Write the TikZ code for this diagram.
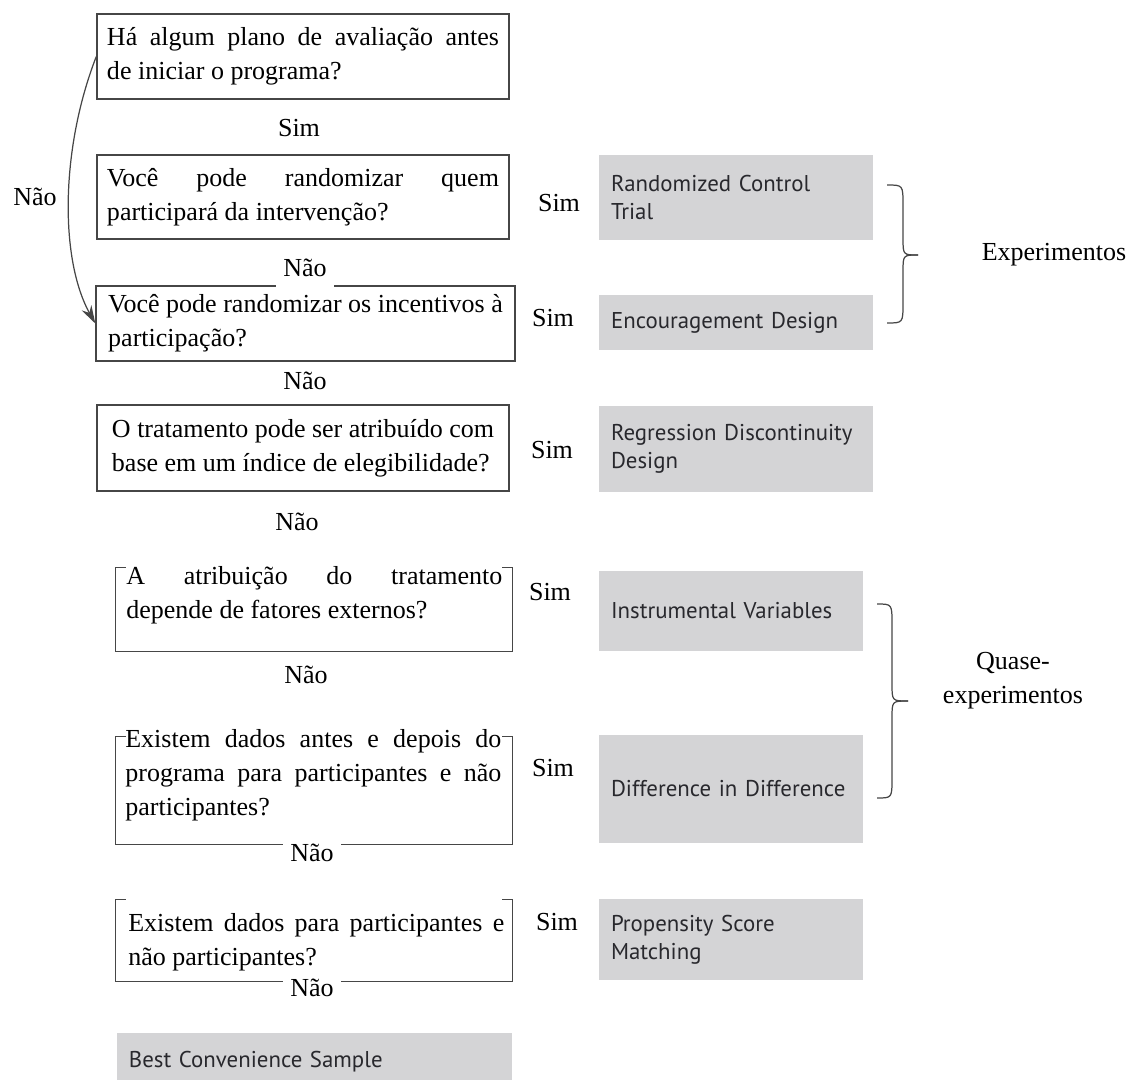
\documentclass[tikz,border=0pt]{standalone}
\usepackage{fontspec}
\setmainfont{Liberation Serif}
\newfontfamily\metodofont{PT Sans}
\usetikzlibrary{arrows.meta}
\definecolor{cinzacaixa}{RGB}{212,212,214}
\definecolor{cinzatexto}{RGB}{40,40,45}
\definecolor{cinzaborda}{RGB}{70,70,70}
\hyphenpenalty=10000
\tolerance=9999

\begin{document}
\begin{tikzpicture}[x=0.2mm,y=-0.2mm,
	texto/.style={font=\fontsize{14.8pt}{19.5pt}\selectfont},
	pergunta/.style={texto,draw=cinzaborda,line width=0.8pt,inner xsep=2mm,inner ysep=0pt},
	moldura/.style={inner sep=0pt},
	contorno/.style={draw=cinzaborda,line width=0.8pt},
	rotulo/.style={texto,inner xsep=4pt,inner ysep=3pt},
	rotulo fundo/.style={rotulo,fill=white},
	metodo/.style={fill=cinzacaixa,text=cinzatexto,font=\metodofont\fontsize{13pt}{16pt}\selectfont,align=left,inner xsep=2.4mm,inner ysep=0pt,text width=#1},
	seta/.style={draw=cinzaborda,line width=0.7pt,-{Stealth[length=3.6mm,width=2.2mm]}},
	chave/.style={draw=cinzaborda,line width=0.7pt}]
		\useasboundingbox (0,0) rectangle (1132,1080);
		% perguntas
		\node[pergunta,text width=78.4mm,align=justify,minimum height=17mm] (q1) at (303,56.5) {Há algum plano de avaliação antes\linebreak de iniciar o programa?};
		\node[pergunta,text width=78.4mm,align=justify,minimum height=16.8mm] (q2) at (303,197) {Você pode randomizar quem\linebreak participará da intervenção?};
		\node[pergunta,align=left,minimum width=83.8mm,minimum height=15mm] (q3) at (305.5,323.5) {Você pode randomizar os incentivos à\\participação?};
		\node[pergunta,align=left,minimum width=82.4mm,minimum height=17.2mm] (q4) at (303,448) {O tratamento pode ser atribuído com\\base em um índice de elegibilidade?};
		\node[moldura,minimum width=79.2mm,minimum height=16.6mm] (q5) at (314,609.5) {};
		\node[moldura,minimum width=79.2mm,minimum height=21.4mm] (q6) at (314,790.5) {};
		\node[moldura,minimum width=79.2mm,minimum height=16.2mm] (q7) at (314,940.5) {};
		\foreach \q in {q5,q6,q7}
			\draw[contorno] ([xshift=2mm]\q.north west)--(\q.north west)--(\q.south west)--(\q.south east)--(\q.north east)--([xshift=-2mm]\q.north east);
		\node[texto,text width=75.2mm,align=justify,inner sep=0pt,anchor=base west] (t5) at (126,584) {A atribuição do tratamento\linebreak depende de fatores externos?};
		\node[texto,text width=75.2mm,align=justify,inner sep=0pt,anchor=base west] (t6) at (125,747) {Existem dados antes e depois do\linebreak programa para participantes e não\linebreak participantes?};
		\node[texto,text width=75.2mm,align=justify,inner sep=0pt,anchor=base west] (t7) at (128,931) {Existem dados para participantes e\linebreak não participantes?};
		% metodos
		\node[metodo=50mm,minimum height=17mm] (rct) at (736,197.5) {Randomized Control\\Trial};
		\node[metodo=50mm,minimum height=11mm] (enc) at (736,322.5) {Encouragement Design};
		\node[metodo=50mm,minimum height=17.2mm] (rdd) at (736,449) {Regression Discontinuity\\Design};
		\node[metodo=48mm,minimum height=16mm] (iv) at (731,611) {Instrumental Variables};
		\node[metodo=48mm,minimum height=21.6mm] (did) at (731,789) {Difference in Difference};
		\node[metodo=48mm,minimum height=16.2mm] (psm) at (731,939.5) {Propensity Score\\Matching};
		\node[metodo=74.2mm,minimum height=11.6mm] (bcs) at (314.5,1062) {Best Convenience Sample};
		% rotulos
		\node[rotulo] (sim1) at (299,128) {Sim};
		\node[rotulo fundo,minimum height=8.6mm] (nao1) at (305,268) {Não};
		\node[rotulo] (nao2) at (305,381) {Não};
		\node[rotulo] (nao3) at (297,522) {Não};
		\node[rotulo] (nao4) at (306,675) {Não};
		\node[rotulo fundo] (nao5) at (312,853) {Não};
		\node[rotulo fundo] (nao6) at (312,988) {Não};
		\node[rotulo] (sim2) at (559,203) {Sim};
		\node[rotulo] (sim3) at (553,318) {Sim};
		\node[rotulo] (sim4) at (552,450) {Sim};
		\node[rotulo] (sim5) at (550,592) {Sim};
		\node[rotulo] (sim6) at (553,768) {Sim};
		\node[rotulo] (sim7) at (557,922) {Sim};
		\node[rotulo] (nao0) at (35,197) {Não};
		\draw[seta] (q1.west)..controls(60,150)and(60,260)..(q3.west);
		% chaves
		\draw[chave] (887,185)..controls(903,185)..(903,205)--(903,238)..controls(903,255)..(918,255);
		\draw[chave] (887,323)..controls(903,323)..(903,303)--(903,272)..controls(903,255)..(918,255);
		\node[texto] (exp) at (1054,255) {Experimentos};
		\draw[chave] (877,604)..controls(892,604)..(892,624)--(892,684)..controls(892,701)..(908,701);
		\draw[chave] (877,798)..controls(892,798)..(892,778)--(892,718)..controls(892,701)..(908,701);
		\node[texto,align=center] (quase) at (1013,681) {Quase-\\experimentos};
	\end{tikzpicture}
\end{document}
